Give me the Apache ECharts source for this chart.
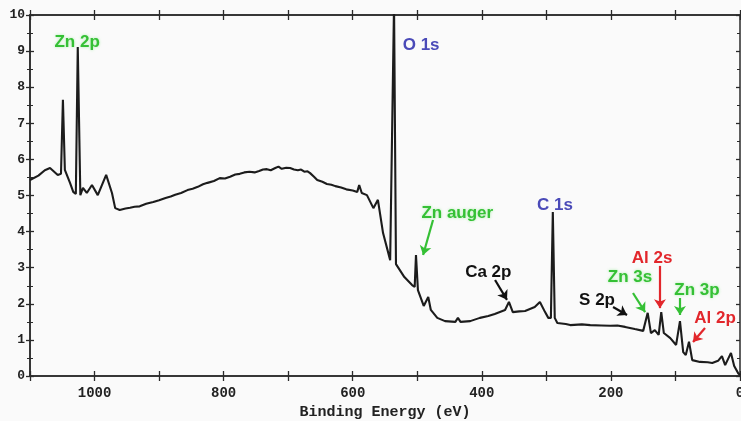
<!DOCTYPE html>
<html><head><meta charset="utf-8">
<script src="https://cdn.jsdelivr.net/npm/echarts@6/dist/echarts.min.js"></script>
<style>html,body{margin:0;padding:0;background:#fafafa;overflow:hidden}#c{width:741px;height:421px}</style>
</head><body><div id="c"></div>
<script>
// Binding energy (eV) and intensity (a.u.)
var energy = [1100,1087,1077,1069,1057,1052,1049,1046,1038,1033,1029,1026,1022,1018,1012,1004,995,982,973,968,961,952,945,938,930,920,909,900,890,882,875,866,856,848,840,832,825,815,806,798,790,782,775,768,760,752,745,739,733,727,720,715,710,703,697,691,685,680,675,670,666,660,655,647,640,633,627,618,610,600,593,590,586,578,568,561,553,542,539,536,533,531,520,508,504,502,499,490,483,479,469,457,441,437,433,418,403,390,380,364,358,352,342,333,318,310,302,297,293,290,287,283,270,263,245,232,215,201,190,178,163,150,143,138,132,126,122,118,108,99,93,88,84,79,74,62,50,43,34,28,23,20,14,9,3,0];
var counts = [5.43,5.55,5.70,5.76,5.57,5.60,7.65,5.71,5.35,5.10,5.04,9.11,5.01,5.21,5.07,5.29,5.01,5.57,5.07,4.65,4.60,4.64,4.66,4.69,4.70,4.77,4.82,4.87,4.93,4.97,5.02,5.07,5.15,5.19,5.24,5.31,5.35,5.40,5.48,5.47,5.52,5.58,5.60,5.64,5.66,5.64,5.68,5.72,5.73,5.70,5.76,5.80,5.74,5.77,5.76,5.72,5.70,5.72,5.66,5.67,5.62,5.52,5.43,5.38,5.32,5.30,5.26,5.22,5.17,5.14,5.10,5.29,5.07,5.01,4.65,4.88,3.96,3.21,3.16,10.3,3.10,3.05,2.74,2.52,2.47,3.35,2.38,1.94,2.19,1.83,1.61,1.52,1.50,1.61,1.50,1.52,1.61,1.66,1.72,1.83,2.05,1.77,1.79,1.80,1.91,2.05,1.77,1.61,1.61,4.54,1.61,1.47,1.44,1.41,1.43,1.41,1.40,1.39,1.40,1.36,1.30,1.25,1.75,1.19,1.27,1.14,1.77,1.19,1.05,0.86,1.52,0.66,0.58,0.95,0.44,0.39,0.38,0.36,0.42,0.55,0.30,0.30,0.64,0.28,0.08,0.03];

// Peak labels: text, energy, intensity, colour
var labelText = ['Zn 2p','O 1s','Zn auger','C 1s','Ca 2p','S 2p','Zn 3s','Al 2s','Zn 3p','Al 2p'];
var labelE    = [1027, 494, 438, 286.6, 390, 221.5, 170.4, 136.3, 66.6, 38.7];
var labelV    = [9.25, 9.17, 4.52, 4.74, 2.88, 2.11, 2.74, 3.27, 2.38, 1.61];
var labelCol  = ['#35c035','#4a4ab8','#35c035','#4a4ab8','#111111','#111111','#35c035','#e2262b','#35c035','#e2262b'];

// Arrows: start (E,v) -> end (E,v), colour
var arrowE0 = [475.6, 379.5, 196.7, 165.8, 124, 93, 54.2];
var arrowV0 = [4.32, 2.66, 1.91, 2.30, 3.05, 2.16, 1.33];
var arrowE1 = [491, 361, 175, 147, 124, 93, 72.8];
var arrowV1 = [3.35, 2.11, 1.69, 1.77, 1.88, 1.69, 0.94];
var arrowCol = ['#35c035','#111111','#111111','#35c035','#e2262b','#35c035','#e2262b'];

var xTicksLabelStep = 200;

var chart = echarts.init(document.getElementById('c'), null, {renderer:'canvas', width:741, height:421});
var data = energy.map(function(e,i){return [e, counts[i]];});
var mono = 'Liberation Mono';
var axisCol = '#2a2a2a';

function xAx(pos, inside, labels){
  return {type:'value', position:pos, inverse:true, min:0, max:1100, interval:100,
    axisLine:{show:true, onZero:false, lineStyle:{color:axisCol, width:1.5}},
    axisTick:{show:true, inside:inside, length:5, lineStyle:{color:axisCol, width:1.3}},
    axisLabel:{show:labels, margin:10, fontFamily:mono, fontWeight:'bold', fontSize:14, color:'#222',
      formatter:function(v){return v % xTicksLabelStep === 0 ? String(v) : '';}},
    splitLine:{show:false},
    name: labels ? 'Binding Energy (eV)' : '', nameLocation:'middle', nameGap:27,
    nameTextStyle:{fontFamily:mono, fontWeight:'bold', fontSize:15, color:'#222'}};
}
function yAx(pos, inside, labels){
  return {type:'value', position:pos, min:0, max:10, interval:1,
    axisLine:{show:true, onZero:false, lineStyle:{color:axisCol, width:1.5}},
    axisTick:{show:true, inside:inside, length:4, lineStyle:{color:axisCol, width:1.3}},
    minorTick:{show:true, splitNumber:2, length:3, lineStyle:{color:axisCol, width:1}},
    axisLabel:{show:labels, margin:5, fontFamily:mono, fontWeight:'bold', fontSize:13, color:'#222'},
    splitLine:{show:false}};
}

var markPts = labelText.map(function(t,i){
  return {name:t, coord:[labelE[i], labelV[i]], symbol:'circle', symbolSize:0,
    label:{show:true, position:'inside', formatter:t, color:labelCol[i],
      fontFamily:'Liberation Sans', fontWeight:'bold', fontSize:17,
      textShadowColor: labelCol[i] === '#35c035' ? 'rgba(120,230,120,0.6)' : 'transparent', textShadowBlur:3}};
});
var markLns = arrowE0.map(function(e,i){
  return [{coord:[e, arrowV0[i]], lineStyle:{color:arrowCol[i], width:2.2, type:'solid'}},
          {coord:[arrowE1[i], arrowV1[i]]}];
});

chart.setOption({
  backgroundColor:'#fafafa',
  animation:false,
  grid:{left:30, right:1, top:15, bottom:45, containLabel:false, outerBoundsMode:'none'},
  xAxis:[xAx('bottom', false, true), xAx('bottom', true, false), xAx('top', true, false), xAx('top', false, false)],
  yAxis:[yAx('left', false, true), yAx('left', true, false), yAx('right', true, false)],
  series:[{
    type:'line', data:data, xAxisIndex:0, yAxisIndex:0, showSymbol:false, smooth:false,
    lineStyle:{color:'#1c1c1c', width:2.1}, clip:true,
    markPoint:{silent:true, animation:false, data:markPts},
    markLine:{silent:true, animation:false, symbol:['none','arrow'], symbolSize:9,
      label:{show:false}, data:markLns}
  }]
});
</script></body></html>
